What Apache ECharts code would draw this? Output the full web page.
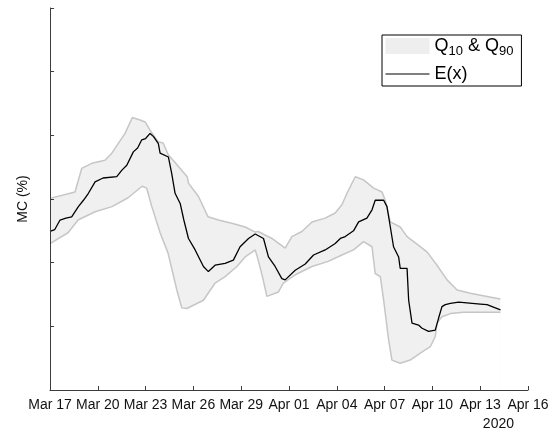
<!DOCTYPE html>
<html>
<head>
<meta charset="utf-8">
<script src="https://cdn.jsdelivr.net/npm/echarts@6/dist/echarts.min.js"></script>
<style>
  html, body { margin: 0; padding: 0; background: #fff; }
  #chart { width: 559px; height: 435px; }
</style>
</head>
<body>
<div id="chart"></div>
<script>
// x values are days since Mar 17 2020, y values in axis units (ticks at whole numbers)
var xTickLabels = ['Mar 17', 'Mar 20', 'Mar 23', 'Mar 26', 'Mar 29', 'Apr 01', 'Apr 04', 'Apr 07', 'Apr 10', 'Apr 13', 'Apr 16'];
var yearLabel = '2020';

// E(x)
var lineDays = [0, 0.3, 0.63, 1.0, 1.36, 1.78, 2.1, 2.41, 2.83, 3.33, 4.19, 4.5, 4.82, 5.23, 5.5, 5.76, 6.0, 6.28, 6.5,
  6.8, 6.91, 7.43, 7.64, 7.85, 8.17, 8.4, 8.69, 9.11, 9.63, 9.94, 10.0, 10.36, 10.99, 11.51, 11.93, 12.46, 12.88,
  13.4, 13.71, 14.13, 14.55, 14.76, 15.39, 16.02, 16.54, 17.27, 17.9, 18.22, 18.53, 19.05, 19.37, 19.89, 20.21,
  20.41, 20.94, 21.15, 21.36, 21.56, 21.88, 21.98, 22.41, 22.51, 22.72, 23.13, 23.35, 23.76, 24.18, 24.39, 24.6,
  24.81, 25.13, 25.65, 27.01, 27.43, 28.27];
var lineVals = [2.49, 2.52, 2.67, 2.70, 2.72, 2.88, 2.98, 3.09, 3.27, 3.33, 3.35, 3.45, 3.53, 3.74, 3.80, 3.93, 3.95, 4.03, 3.98,
  3.87, 3.72, 3.66, 3.40, 3.09, 2.93, 2.67, 2.38, 2.20, 1.94, 1.86, 1.84, 1.96, 1.99, 2.04, 2.25, 2.38, 2.45,
  2.38, 2.09, 1.94, 1.75, 1.73, 1.88, 1.98, 2.12, 2.20, 2.30, 2.38, 2.41, 2.50, 2.64, 2.70, 2.83,
  2.98, 2.98, 2.88, 2.56, 2.25, 2.09, 1.91, 1.91, 1.41, 1.05, 1.02, 0.97, 0.92, 0.94, 1.13, 1.31,
  1.34, 1.36, 1.38, 1.35, 1.34, 1.26];

// Q90 (upper edge of band)
var upperDays = [0, 1.57, 1.99, 2.62, 3.45, 3.88, 4.71, 5.17, 5.65, 5.97, 6.28, 6.78, 7.1, 7.43, 7.73, 8.06, 8.61, 8.69,
  9.32, 9.92, 10.57, 11.41, 12.25, 12.88, 13.07, 13.93, 14.76, 15.18, 15.81, 16.44, 17.27, 17.9, 18.32, 18.64, 18.84,
  19.16, 19.68, 20.31, 20.84, 21.04, 21.36, 21.98, 22.41, 23.03, 23.66, 24.29, 24.92, 25.55, 26.38, 27.43, 28.27];
var upperVals = [3.01, 3.11, 3.48, 3.56, 3.61, 3.72, 4.03, 4.28, 4.24, 4.21, 4.08, 3.90, 3.88, 3.69, 3.61, 3.51, 3.35, 3.25,
  3.04, 2.72, 2.67, 2.62, 2.56, 2.48, 2.49, 2.38, 2.23, 2.41, 2.49, 2.64, 2.70, 2.78, 2.91, 3.09, 3.19,
  3.35, 3.30, 3.17, 3.11, 2.98, 2.64, 2.56, 2.41, 2.29, 2.17, 1.96, 1.73, 1.57, 1.52, 1.47, 1.43];

// Q10 (lower edge of band)
var lowerDays = [0, 1.13, 1.76, 2.83, 3.89, 4.9, 5.78, 6.07, 6.39, 6.91, 7.41, 7.96, 8.27, 8.59, 9.63, 10.36, 10.99,
  11.73, 12.25, 12.88, 13.07, 13.38, 13.61, 14.34, 14.64, 15.39, 16.44, 17.46, 18.32, 19.05, 19.68, 20.21, 20.41,
  20.73, 20.94, 21.25, 21.46, 21.98, 22.61, 23.24, 23.87, 24.18, 24.29, 24.6, 25.13, 25.96, 28.27];
var lowerVals = [2.30, 2.47, 2.67, 2.80, 2.88, 3.02, 3.20, 3.17, 2.88, 2.47, 2.15, 1.57, 1.29, 1.28, 1.41, 1.68, 1.78,
  1.94, 2.09, 2.20, 2.04, 1.73, 1.47, 1.54, 1.68, 1.81, 1.94, 2.02, 2.12, 2.20, 2.33, 2.25, 1.83,
  1.78, 1.41, 0.79, 0.47, 0.42, 0.47, 0.58, 0.68, 0.84, 1.05, 1.15, 1.20, 1.22, 1.22];

function pairs(xs, ys) {
    var out = [];
    for (var i = 0; i < xs.length; i++) {
        out.push([xs[i], ys[i]]);
    }
    return out;
}

var bandName = 'Q10 & Q90';
var lineName = 'E(x)';
var fontFamily = '"Liberation Sans", Arial, sans-serif';

var myChart = echarts.init(document.getElementById('chart'), null, { renderer: 'canvas' });
var option = {
    animation: false,
    textStyle: { fontFamily: fontFamily },
    grid: { left: 50, right: 31, top: 8, bottom: 45, outerBoundsMode: 'none' },
    legend: {
        show: true,
        orient: 'vertical',
        left: 382,
        top: 35,
        padding: [2, 8, 3, 3],
        itemGap: 7,
        itemWidth: 44,
        itemHeight: 16,
        borderColor: '#000',
        borderWidth: 1,
        data: [
            { name: bandName, icon: 'rect', itemStyle: { color: '#eeeeee', borderWidth: 0 } },
            { name: lineName, itemStyle: { opacity: 0 }, lineStyle: { color: '#000', width: 1 } }
        ],
        formatter: function (name) {
            if (name === bandName) {
                return '{n|Q}{s|10}{n| & Q}{s|90}';
            }
            return '{n|' + name + '}';
        },
        textStyle: {
            color: '#000',
            rich: {
                n: { fontSize: 18, fontFamily: fontFamily, color: '#000' },
                s: { fontSize: 13, fontFamily: fontFamily, color: '#000', padding: [11, 0, 0, 0] }
            }
        }
    },
    xAxis: {
        type: 'value',
        min: 0,
        max: 30,
        interval: 3,
        z: 5,
        name: yearLabel,
        nameLocation: 'end',
        nameGap: -14,
        nameMoveOverlap: false,
        nameTextStyle: { color: '#111', fontSize: 14, align: 'right', verticalAlign: 'top', padding: [27, 0, 0, 0] },
        splitLine: { show: false },
        axisLine: { lineStyle: { color: '#3c3c3c', width: 1 } },
        axisTick: { inside: true, length: 4, lineStyle: { color: '#3c3c3c' } },
        axisLabel: {
            color: '#111',
            fontSize: 14,
            margin: 8,
            formatter: function (v) { return xTickLabels[Math.round(v / 3)]; }
        }
    },
    yAxis: {
        type: 'value',
        min: 0,
        max: 6,
        interval: 1,
        z: 5,
        name: 'MC (%)',
        nameLocation: 'middle',
        nameGap: 20,
        nameTextStyle: { color: '#111', fontSize: 14 },
        splitLine: { show: false },
        axisLine: { show: true, lineStyle: { color: '#3c3c3c', width: 1 } },
        axisTick: { show: true, inside: true, length: 4, lineStyle: { color: '#3c3c3c' } },
        axisLabel: { show: false }
    },
    series: [
        {
            name: bandName,
            type: 'line',
            data: pairs(upperDays, upperVals),
            symbol: 'none',
            lineStyle: { color: '#c6c6c6', width: 1.5 },
            itemStyle: { color: '#eeeeee' },
            areaStyle: { color: '#f0f0f0', opacity: 1 },
            z: 1
        },
        {
            name: 'q10',
            type: 'line',
            data: pairs(lowerDays, lowerVals),
            symbol: 'none',
            lineStyle: { color: '#c6c6c6', width: 1.5 },
            areaStyle: { color: '#ffffff', opacity: 1 },
            z: 2
        },
        {
            name: lineName,
            type: 'line',
            data: pairs(lineDays, lineVals),
            symbol: 'none',
            lineStyle: { color: '#000', width: 1.3 },
            itemStyle: { color: '#000' },
            z: 3
        }
    ]
};
myChart.setOption(option);
window.addEventListener('resize', myChart.resize);
</script>
</body>
</html>
